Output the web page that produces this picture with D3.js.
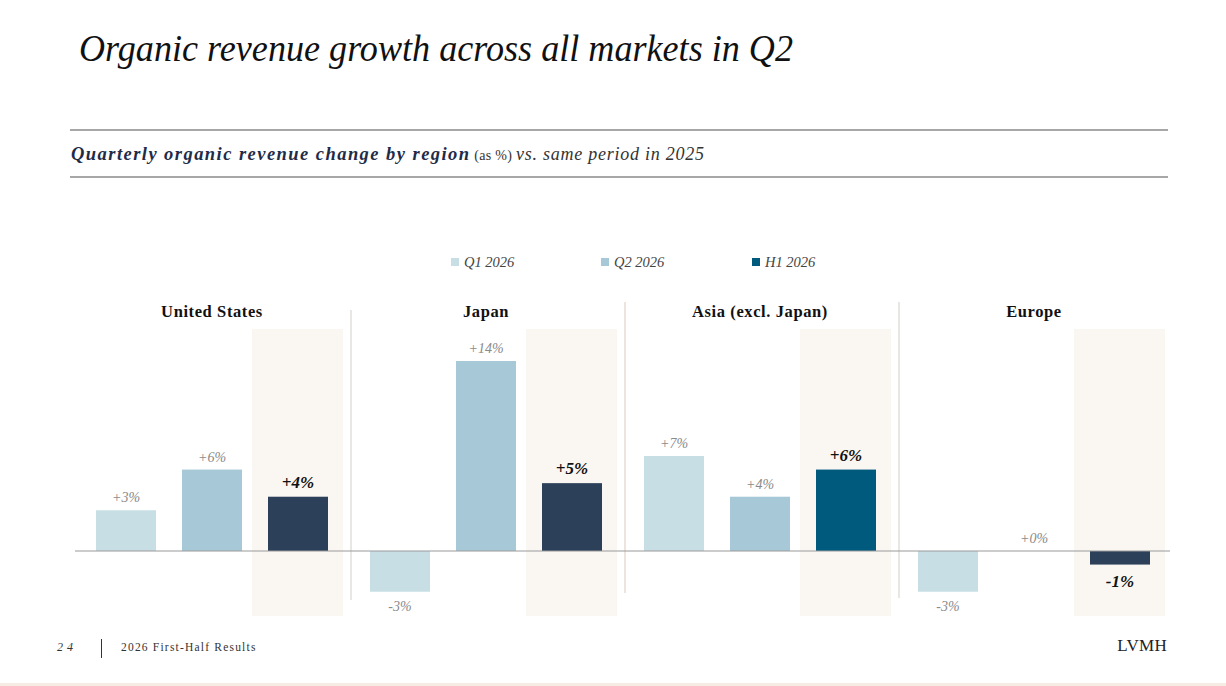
<!DOCTYPE html>
<html>
<head>
<meta charset="utf-8">
<script src="https://cdn.jsdelivr.net/npm/d3@7/dist/d3.min.js"></script>
<style>
  html, body { margin: 0; padding: 0; background: #fff; }
  svg { display: block; }
</style>
</head>
<body>
<svg id="chart" width="1226" height="686"></svg>
<script>
// ---- Data ----
const regions = ["United States", "Japan", "Asia (excl. Japan)", "Europe"];
const series = ["Q1 2026", "Q2 2026", "H1 2026"];
const q1Values = [3, -3, 7, -3];
const q2Values = [6, 14, 4, 0];
const h1Values = [4, 5, 6, -1];

// ---- Style ----
const serif = "'Liberation Serif', 'DejaVu Serif', serif";
const seriesColors = ["#c6dee4", "#a6c8d7", "#005a7e"];
const h1BarColors = ["#2d405a", "#2d405a", "#005a7e", "#2d405a"];

const svg = d3.select("#chart");
const W = 1226, H = 686;

// Title
svg.append("text").attr("x", 79).attr("y", 61)
  .attr("font-family", serif).attr("font-style", "italic")
  .attr("font-size", 38).attr("fill", "#111")
  .attr("textLength", 714).attr("lengthAdjust", "spacingAndGlyphs")
  .text("Organic revenue growth across all markets in Q2");

// Rules
[130, 177].forEach(y => svg.append("line")
  .attr("x1", 70).attr("x2", 1168).attr("y1", y).attr("y2", y)
  .attr("stroke", "#8a8a8a").attr("stroke-width", 1.3));

// Subtitle
const sub = svg.append("text").attr("x", 71).attr("y", 160)
  .attr("font-family", serif).attr("fill", "#1f2c48");
sub.append("tspan").attr("font-weight", "bold").attr("font-style", "italic")
  .attr("font-size", 18.5).attr("letter-spacing", 1.45)
  .text("Quarterly organic revenue change by region");
sub.append("tspan").attr("font-size", 14).attr("fill", "#333").attr("letter-spacing", 0.3)
  .text(" (as %) ");
sub.append("tspan").attr("font-style", "italic").attr("font-size", 18)
  .attr("fill", "#333").attr("letter-spacing", 0.75).text("vs. same period in 2025");

// Legend
const legendX = [451, 601, 752];
series.forEach((s, i) => {
  svg.append("rect").attr("x", legendX[i]).attr("y", 258)
    .attr("width", 8).attr("height", 8).attr("fill", seriesColors[i]);
  svg.append("text").attr("x", legendX[i] + 13).attr("y", 267)
    .attr("font-family", serif).attr("font-style", "italic")
    .attr("font-size", 14.5).attr("fill", "#444").text(s);
});

// Scales
const x0 = d3.scaleBand().domain(regions).range([75, 1171]).padding(0);
const x1 = d3.scaleBand().domain(series).range([21, 253]).paddingInner(26 / 86).paddingOuter(0);
const y = d3.scaleLinear().domain([0, 14]).range([551, 361]);

const rows = regions.map((r, i) => ({
  region: r, idx: i,
  vals: [q1Values[i], q2Values[i], h1Values[i]]
}));

// Highlight bands for H1
svg.append("g").selectAll("rect").data(rows).join("rect")
  .attr("x", d => x0(d.region) + x1("H1 2026") - 16)
  .attr("y", 329).attr("width", 91).attr("height", 287)
  .attr("fill", "#faf7f3");

// Separators
const sepTop = [310, 302, 302];
const sepBot = [600, 593, 598];
regions.slice(1).forEach((r, i) => {
  svg.append("line")
    .attr("x1", x0(r) + 2).attr("x2", x0(r) + 2)
    .attr("y1", sepTop[i]).attr("y2", sepBot[i])
    .attr("stroke", i === 1 ? "#e3d6cc" : "#dedad6").attr("stroke-width", 1.3);
});

// Region labels
svg.append("g").selectAll("text").data(regions).join("text")
  .attr("x", d => x0(d) + x0.bandwidth() / 2).attr("y", 317)
  .attr("text-anchor", "middle").attr("font-family", serif)
  .attr("font-weight", "bold").attr("font-size", 16.5).attr("fill", "#111")
  .attr("letter-spacing", 0.6)
  .text(d => d);

// Bars
const groups = svg.append("g").selectAll("g").data(rows).join("g")
  .attr("transform", d => `translate(${x0(d.region)},0)`);

groups.selectAll("rect").data(d => d.vals.map((v, j) => ({ v, j, idx: d.idx })))
  .join("rect")
  .attr("x", d => x1(series[d.j]))
  .attr("width", x1.bandwidth())
  .attr("y", d => y(Math.max(0, d.v)))
  .attr("height", d => Math.abs(y(d.v) - y(0)))
  .attr("fill", d => d.j === 2 ? h1BarColors[d.idx] : seriesColors[d.j]);

// Baseline
svg.append("line").attr("x1", 75).attr("x2", 1170)
  .attr("y1", y(0)).attr("y2", y(0))
  .attr("stroke", "#9a9a9a").attr("stroke-width", 1.2);

// Value labels
const fmt = v => (v >= 0 ? "+" : "-") + Math.abs(v) + "%";
groups.selectAll("text").data(d => d.vals.map((v, j) => ({ v, j })))
  .join("text")
  .attr("x", d => x1(series[d.j]) + x1.bandwidth() / 2)
  .attr("y", d => d.v >= 0 ? y(d.v) - (d.j === 2 ? 9 : 8) : y(d.v) + (d.j === 2 ? 22 : 19))
  .attr("text-anchor", "middle").attr("font-family", serif)
  .attr("font-style", "italic")
  .attr("font-weight", d => d.j === 2 ? "bold" : "normal")
  .attr("font-size", d => d.j === 2 ? 17 : 14)
  .attr("fill", d => d.j === 2 ? "#111" : "#8a8a8a")
  .text(d => fmt(d.v));

// Footer
svg.append("text").attr("x", 57).attr("y", 651)
  .attr("font-family", serif).attr("font-style", "italic")
  .attr("font-size", 12).attr("letter-spacing", 4).attr("fill", "#333").text("24");
svg.append("line").attr("x1", 101.5).attr("x2", 101.5).attr("y1", 639).attr("y2", 658)
  .attr("stroke", "#333").attr("stroke-width", 1);
svg.append("text").attr("x", 121).attr("y", 651)
  .attr("font-family", serif).attr("font-size", 11.5).attr("letter-spacing", 1.2)
  .attr("fill", "#333").text("2026 First-Half Results");
svg.append("text").attr("x", 1167).attr("y", 651).attr("text-anchor", "end")
  .attr("font-family", serif).attr("font-size", 17).attr("letter-spacing", 0.3)
  .attr("fill", "#222").text("LVMH");
svg.append("rect").attr("x", 0).attr("y", 683).attr("width", W).attr("height", 3)
  .attr("fill", "#f6ece4");
</script>
</body>
</html>
